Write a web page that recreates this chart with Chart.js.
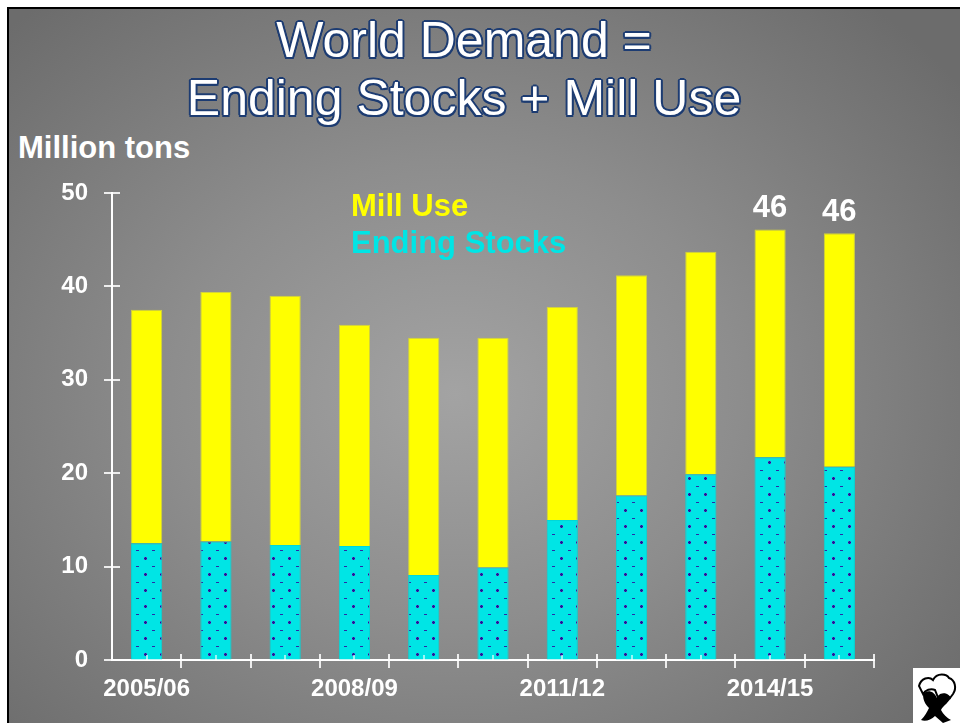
<!DOCTYPE html>
<html>
<head>
<meta charset="utf-8">
<script src="https://cdn.jsdelivr.net/npm/chart.js@4"></script>
<style>
  body { margin: 0; background: #fff; width: 960px; height: 723px; overflow: hidden; position: relative; font-family: "Liberation Sans", Arial, sans-serif; }
  #slide { position: absolute; left: 7px; top: 7px; width: 970px; height: 740px; border-left: 2px solid #000; border-top: 2px solid #000;
    background: radial-gradient(ellipse 65% 70% at 46% 52%, #a3a3a3 0%, #8d8d8d 45%, #6c6c6c 100%); }
  #chart { position: absolute; left: 0; top: 0; }
  .title { position: absolute; left: 0; width: 928px; text-align: center; color: #fff; font-size: 50px; line-height: 50px;
    text-shadow: -2px 0 #1d3c72, 2px 0 #1d3c72, 0 -2px #1d3c72, 0 2px #1d3c72, -1.5px -1.5px #1d3c72, 1.5px 1.5px #1d3c72, -1.5px 1.5px #1d3c72, 1.5px -1.5px #1d3c72; }
  #unit { position: absolute; left: 18px; top: 132px; color: #fff; font-weight: bold; font-size: 31px; line-height: 31px; }
  #logo { position: absolute; left: 913px; top: 668px; }
</style>
</head>
<body>
<div id="slide"></div>
<div class="title" style="top:15px">World Demand =</div>
<div class="title" style="top:73px">Ending Stocks + Mill Use</div>
<div id="unit">Million tons</div>
<canvas id="chart" width="960" height="723"></canvas>
<svg id="logo" width="47" height="55" viewBox="0 0 47 55">
  <rect width="47" height="55" fill="#fff"/>
  <path d="M6 18 C8 10 16 8 20 12 C24 4 34 6 36 10 C42 12 44 20 40 26 L37 30 C32 24 28 26 26 32 L22 22 C18 20 12 22 10 26 Z" fill="#fff" stroke="#000" stroke-width="2"/>
  <path d="M10 26 C14 22 20 22 24 30 C26 24 32 24 38 30 C34 36 30 38 28 42 C30 46 34 50 38 52 L30 55 L22 48 C18 52 12 54 8 52 C12 48 14 44 16 40 C12 36 10 32 10 26 Z" fill="#000"/>
</svg>
<script>
const years = ["2005/06", "2006/07", "2007/08", "2008/09", "2009/10", "2010/11", "2011/12", "2012/13", "2013/14", "2014/15", "2015/16"];
const endingStocks = [12.5, 12.7, 12.3, 12.2, 9.1, 9.9, 15.0, 17.6, 19.9, 21.7, 20.7];
const millUse = [25.0, 26.7, 26.7, 23.7, 25.4, 24.6, 22.8, 23.6, 23.8, 24.4, 25.0];
const yTicks = [0, 10, 20, 30, 40, 50];
const labelledYears = ["2014/15", "2015/16"];

const FONT = '"Liberation Sans", Arial, sans-serif';

// dotted cyan fill for the stocks bars
function dotPattern() {
  const c = document.createElement("canvas");
  c.width = 16; c.height = 16;
  const g = c.getContext("2d");
  g.fillStyle = "#00e5e5";
  g.fillRect(0, 0, 16, 16);
  g.fillStyle = "#5a5ac0";
  g.fillRect(0, 13, 3, 3);
  g.fillStyle = "#1a1a9a";
  g.fillRect(1, 14, 1, 1);
  g.fillRect(0, 14, 3, 1);
  g.fillRect(1, 13, 1, 3);
  g.fillStyle = "#2a2aa8";
  g.fillRect(8, 6, 3, 1);
  return g.createPattern(c, "repeat");
}

const extras = {
  id: "extras",
  afterDatasetsDraw(chart) {
    const ctx = chart.ctx;
    const area = chart.chartArea;
    const xs = chart.scales.x, ys = chart.scales.y;
    const step = (area.right - area.left) / years.length;
    ctx.save();
    ctx.strokeStyle = "rgba(255,255,255,0.85)";
    ctx.lineWidth = 2;
    // y ticks crossing the axis
    yTicks.forEach(v => {
      const y = Math.round(ys.getPixelForValue(v));
      ctx.beginPath(); ctx.moveTo(area.left - 8, y); ctx.lineTo(area.left + 8, y); ctx.stroke();
    });
    // x ticks at category edges
    for (let i = 1; i <= years.length; i++) {
      const x = Math.round(xs.getPixelForValue(i - 1) + step / 2);
      ctx.beginPath(); ctx.moveTo(x, area.bottom - 6); ctx.lineTo(x, area.bottom + 8); ctx.stroke();
    }
    // small ticks at category centres
    ctx.strokeStyle = "rgba(255,255,255,0.6)";
    for (let i = 0; i < years.length; i++) {
      const x = Math.round(xs.getPixelForValue(i));
      ctx.beginPath(); ctx.moveTo(x, area.bottom - 5); ctx.lineTo(x, area.bottom); ctx.stroke();
    }
    // totals above the last bars
    const meta = chart.getDatasetMeta(1);
    ctx.fillStyle = "#fff";
    ctx.font = "bold 31px " + FONT;
    ctx.textAlign = "center";
    ctx.textBaseline = "alphabetic";
    labelledYears.forEach(yr => {
      const i = years.indexOf(yr);
      const bar = meta.data[i];
      ctx.fillText(String(Math.round(endingStocks[i] + millUse[i])), bar.x, bar.y - 12);
    });
    // legend text
    ctx.textAlign = "left";
    ctx.fillStyle = "#ffff00";
    ctx.fillText("Mill Use", 351, 216);
    ctx.fillStyle = "#00e5e5";
    ctx.fillText("Ending Stocks", 351, 253);
    ctx.restore();
  }
};

new Chart(document.getElementById("chart"), {
  type: "bar",
  data: {
    labels: years,
    datasets: [
      {
        label: "Ending Stocks",
        data: endingStocks,
        backgroundColor: dotPattern(),
        borderColor: "#00d8d8",
        borderWidth: 1,
      },
      {
        label: "Mill Use",
        data: millUse,
        backgroundColor: "#ffff00",
        borderColor: "#d2d23c",
        borderWidth: 1,
      },
    ],
  },
  options: {
    responsive: false,
    animation: false,
    categoryPercentage: 1,
    barPercentage: 0.45,
    layout: { padding: { top: 193, right: 86, left: 0, bottom: 0 } },
    plugins: { legend: { display: false }, tooltip: { enabled: false } },
    scales: {
      x: {
        stacked: true,
        grid: { drawOnChartArea: false, drawTicks: false },
        border: { color: "#fff", width: 2 },
        ticks: {
          autoSkip: false,
          maxRotation: 0,
          padding: 15,
          color: "#fff",
          font: { family: FONT, size: 24, weight: "bold" },
          callback: (v, i) => (i % 3 === 0 ? years[i] : ""),
        },
        afterFit: s => { s.height = 63; },
      },
      y: {
        stacked: true,
        min: 0,
        max: 50,
        grid: { drawOnChartArea: false, drawTicks: false },
        border: { color: "#fff", width: 2 },
        ticks: {
          stepSize: 10,
          padding: 24,
          color: "#fff",
          font: { family: FONT, size: 24, weight: "bold" },
        },
        afterFit: s => { s.width = 112; },
      },
    },
  },
  plugins: [extras],
});
</script>
</body>
</html>
